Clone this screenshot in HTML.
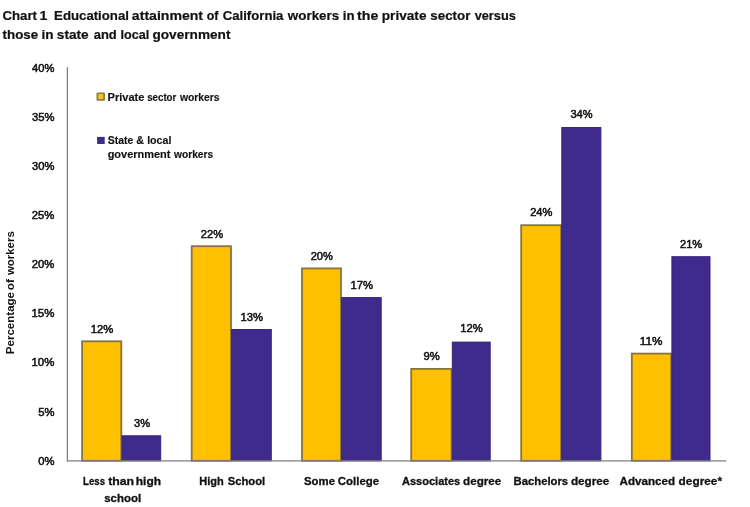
<!DOCTYPE html>
<html lang="en"><head><meta charset="utf-8"><title>Chart 1</title>
<style>
html,body{margin:0;padding:0;background:#fff;}
body{width:750px;height:507px;overflow:hidden;}
svg{display:block;}
text{font-family:"Liberation Sans",sans-serif;fill:#111;}
.t{font-size:12.8px;font-weight:bold;stroke:#111;stroke-width:0.2px;}
.c{font-size:11.5px;font-weight:bold;stroke:#111;stroke-width:0.3px;}
.y{font-size:11.5px;font-weight:bold;}
.l{font-size:10.6px;font-weight:bold;stroke:#111;stroke-width:0.15px;}
.n{font-size:10.6px;stroke:#111;stroke-width:0.5px;}
</style></head><body>
<svg width="750" height="507" viewBox="0 0 750 507">
<rect x="0" y="0" width="750" height="507" fill="#ffffff"/>
<text class="t" x="2.46" y="19.80" textLength="34.50" lengthAdjust="spacingAndGlyphs">Chart</text>
<text class="t" x="39.51" y="19.80" textLength="7.89" lengthAdjust="spacingAndGlyphs">1</text>
<text class="t" x="54.12" y="19.80" textLength="74.82" lengthAdjust="spacingAndGlyphs">Educational</text>
<text class="t" x="131.89" y="19.80" textLength="71.18" lengthAdjust="spacingAndGlyphs">attainment</text>
<text class="t" x="206.82" y="19.80" textLength="11.66" lengthAdjust="spacingAndGlyphs">of</text>
<text class="t" x="222.76" y="19.80" textLength="60.66" lengthAdjust="spacingAndGlyphs">California</text>
<text class="t" x="287.84" y="19.80" textLength="51.41" lengthAdjust="spacingAndGlyphs">workers</text>
<text class="t" x="342.78" y="19.80" textLength="11.74" lengthAdjust="spacingAndGlyphs">in</text>
<text class="t" x="357.13" y="19.80" textLength="21.26" lengthAdjust="spacingAndGlyphs">the</text>
<text class="t" x="381.80" y="19.80" textLength="44.66" lengthAdjust="spacingAndGlyphs">private</text>
<text class="t" x="430.33" y="19.80" textLength="40.07" lengthAdjust="spacingAndGlyphs">sector</text>
<text class="t" x="474.65" y="19.80" textLength="41.17" lengthAdjust="spacingAndGlyphs">versus</text>
<text class="t" x="2.54" y="38.90" textLength="35.62" lengthAdjust="spacingAndGlyphs">those</text>
<text class="t" x="41.45" y="38.90" textLength="12.09" lengthAdjust="spacingAndGlyphs">in</text>
<text class="t" x="56.82" y="38.90" textLength="31.85" lengthAdjust="spacingAndGlyphs">state</text>
<text class="t" x="93.72" y="38.90" textLength="23.03" lengthAdjust="spacingAndGlyphs">and</text>
<text class="t" x="120.42" y="38.90" textLength="28.78" lengthAdjust="spacingAndGlyphs">local</text>
<text class="t" x="152.44" y="38.90" textLength="78.03" lengthAdjust="spacingAndGlyphs">government</text>
<rect x="82.10" y="341.30" width="39.20" height="119.50" fill="#FFC000" stroke="#85743F" stroke-width="1.8"/>
<rect x="122.00" y="435.80" width="38.70" height="25.00" fill="#3F2B8C" stroke="#36247F" stroke-width="1"/>
<rect x="191.70" y="246.20" width="39.30" height="214.60" fill="#FFC000" stroke="#85743F" stroke-width="1.8"/>
<rect x="231.70" y="329.50" width="39.60" height="131.30" fill="#3F2B8C" stroke="#36247F" stroke-width="1"/>
<rect x="302.00" y="268.40" width="39.00" height="192.40" fill="#FFC000" stroke="#85743F" stroke-width="1.8"/>
<rect x="341.70" y="297.60" width="39.50" height="163.20" fill="#3F2B8C" stroke="#36247F" stroke-width="1"/>
<rect x="411.20" y="368.90" width="40.40" height="91.90" fill="#FFC000" stroke="#85743F" stroke-width="1.8"/>
<rect x="452.30" y="342.10" width="37.90" height="118.70" fill="#3F2B8C" stroke="#36247F" stroke-width="1"/>
<rect x="521.20" y="225.20" width="39.90" height="235.60" fill="#FFC000" stroke="#85743F" stroke-width="1.8"/>
<rect x="561.80" y="127.55" width="39.10" height="333.25" fill="#3F2B8C" stroke="#36247F" stroke-width="1"/>
<rect x="631.80" y="353.60" width="39.40" height="107.20" fill="#FFC000" stroke="#85743F" stroke-width="1.8"/>
<rect x="671.90" y="256.70" width="38.10" height="204.10" fill="#3F2B8C" stroke="#36247F" stroke-width="1"/>
<line x1="67.4" y1="67.3" x2="67.4" y2="461.40000000000003" stroke="#7F7F7F" stroke-width="1.3"/>
<line x1="66.80000000000001" y1="460.8" x2="726.3" y2="460.8" stroke="#7F7F7F" stroke-width="1.3"/>
<text class="n" x="38.16" y="464.60" textLength="16.24" lengthAdjust="spacingAndGlyphs">0%</text>
<text class="n" x="38.15" y="415.54" textLength="16.25" lengthAdjust="spacingAndGlyphs">5%</text>
<text class="n" x="31.53" y="366.48" textLength="22.88" lengthAdjust="spacingAndGlyphs">10%</text>
<text class="n" x="31.53" y="317.41" textLength="22.88" lengthAdjust="spacingAndGlyphs">15%</text>
<text class="n" x="31.83" y="268.35" textLength="22.57" lengthAdjust="spacingAndGlyphs">20%</text>
<text class="n" x="31.83" y="219.29" textLength="22.57" lengthAdjust="spacingAndGlyphs">25%</text>
<text class="n" x="31.97" y="170.22" textLength="22.43" lengthAdjust="spacingAndGlyphs">30%</text>
<text class="n" x="31.97" y="121.16" textLength="22.43" lengthAdjust="spacingAndGlyphs">35%</text>
<text class="n" x="32.14" y="72.10" textLength="22.25" lengthAdjust="spacingAndGlyphs">40%</text>
<text class="n" x="90.74" y="332.60" textLength="22.56" lengthAdjust="spacingAndGlyphs">12%</text>
<text class="n" x="134.13" y="427.20" textLength="16.12" lengthAdjust="spacingAndGlyphs">3%</text>
<text class="n" x="200.79" y="237.80" textLength="22.26" lengthAdjust="spacingAndGlyphs">22%</text>
<text class="n" x="240.59" y="321.10" textLength="22.56" lengthAdjust="spacingAndGlyphs">13%</text>
<text class="n" x="310.69" y="260.00" textLength="22.26" lengthAdjust="spacingAndGlyphs">20%</text>
<text class="n" x="350.49" y="289.00" textLength="22.56" lengthAdjust="spacingAndGlyphs">17%</text>
<text class="n" x="423.52" y="360.10" textLength="16.23" lengthAdjust="spacingAndGlyphs">9%</text>
<text class="n" x="460.19" y="332.10" textLength="22.56" lengthAdjust="spacingAndGlyphs">12%</text>
<text class="n" x="530.19" y="216.20" textLength="22.26" lengthAdjust="spacingAndGlyphs">24%</text>
<text class="n" x="570.43" y="117.60" textLength="22.11" lengthAdjust="spacingAndGlyphs">34%</text>
<text class="n" x="639.84" y="345.20" textLength="22.56" lengthAdjust="spacingAndGlyphs">11%</text>
<text class="n" x="679.99" y="247.50" textLength="22.26" lengthAdjust="spacingAndGlyphs">21%</text>
<text class="y" transform="translate(13.90,353.40) rotate(-90)" x="-0.77" y="0" textLength="62.17" lengthAdjust="spacingAndGlyphs">Percentage</text>
<text class="y" transform="translate(13.90,353.40) rotate(-90)" x="63.24" y="0" textLength="11.03" lengthAdjust="spacingAndGlyphs">of</text>
<text class="y" transform="translate(13.90,353.40) rotate(-90)" x="78.33" y="0" textLength="43.84" lengthAdjust="spacingAndGlyphs">workers</text>
<rect x="96.5" y="92.4" width="8.5" height="8.4" rx="1" fill="#8E7E48"/>
<rect x="98.2" y="94.1" width="5.1" height="5" rx="0.8" fill="#F2C51C"/>
<rect x="97.1" y="136.9" width="7.6" height="7.1" fill="#3F2B8C"/>
<text class="l" x="107.56" y="100.80" textLength="36.92" lengthAdjust="spacingAndGlyphs">Private</text>
<text class="l" x="147.16" y="100.80" textLength="29.19" lengthAdjust="spacingAndGlyphs">sector</text>
<text class="l" x="180.03" y="100.80" textLength="39.59" lengthAdjust="spacingAndGlyphs">workers</text>
<text class="l" x="107.80" y="144.00" textLength="25.46" lengthAdjust="spacingAndGlyphs">State</text>
<text class="l" x="136.23" y="144.00" textLength="7.70" lengthAdjust="spacingAndGlyphs">&amp;</text>
<text class="l" x="147.16" y="144.00" textLength="24.19" lengthAdjust="spacingAndGlyphs">local</text>
<text class="l" x="107.65" y="158.00" textLength="62.78" lengthAdjust="spacingAndGlyphs">government</text>
<text class="l" x="174.03" y="158.00" textLength="39.19" lengthAdjust="spacingAndGlyphs">workers</text>
<text class="c" x="83.06" y="485.40" textLength="21.94" lengthAdjust="spacingAndGlyphs">Less</text>
<text class="c" x="108.15" y="485.40" textLength="25.91" lengthAdjust="spacingAndGlyphs">than</text>
<text class="c" x="135.76" y="485.40" textLength="25.28" lengthAdjust="spacingAndGlyphs">high</text>
<text class="c" x="104.20" y="501.70" textLength="36.91" lengthAdjust="spacingAndGlyphs">school</text>
<text class="c" x="199.26" y="485.40" textLength="24.52" lengthAdjust="spacingAndGlyphs">High</text>
<text class="c" x="227.68" y="485.40" textLength="37.52" lengthAdjust="spacingAndGlyphs">School</text>
<text class="c" x="303.97" y="485.40" textLength="31.02" lengthAdjust="spacingAndGlyphs">Some</text>
<text class="c" x="337.83" y="485.40" textLength="41.26" lengthAdjust="spacingAndGlyphs">College</text>
<text class="c" x="401.92" y="485.40" textLength="58.33" lengthAdjust="spacingAndGlyphs">Associates</text>
<text class="c" x="463.02" y="485.40" textLength="38.28" lengthAdjust="spacingAndGlyphs">degree</text>
<text class="c" x="513.54" y="485.40" textLength="54.62" lengthAdjust="spacingAndGlyphs">Bachelors</text>
<text class="c" x="570.92" y="485.40" textLength="38.48" lengthAdjust="spacingAndGlyphs">degree</text>
<text class="c" x="619.61" y="485.40" textLength="55.45" lengthAdjust="spacingAndGlyphs">Advanced</text>
<text class="c" x="678.61" y="485.40" textLength="43.40" lengthAdjust="spacingAndGlyphs">degree*</text>
</svg>
</body></html>
